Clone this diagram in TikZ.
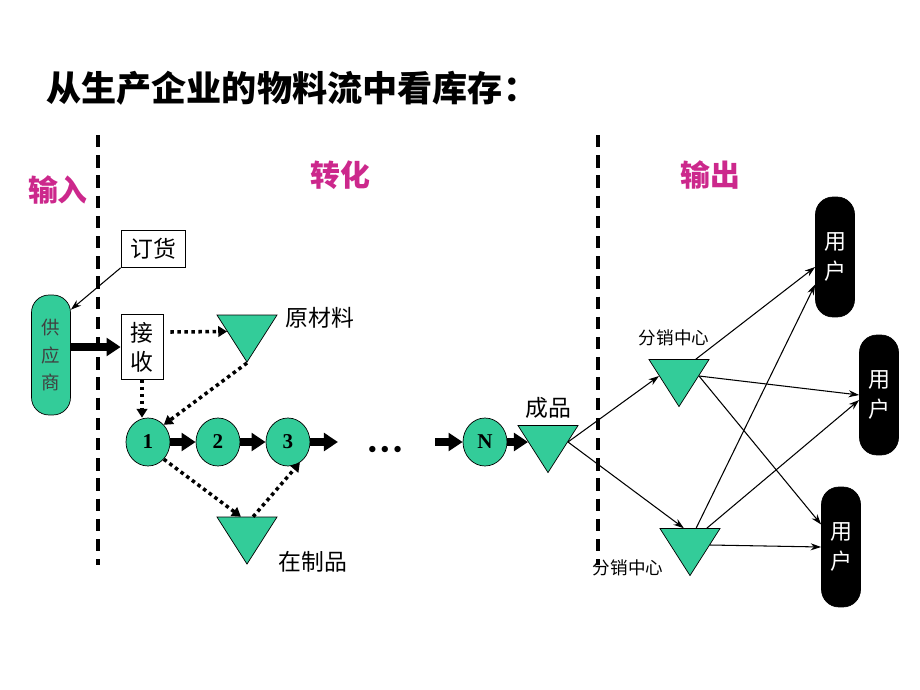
\documentclass[tikz,border=0pt]{standalone}
\usepackage{fontspec}
\usepackage{xcolor}
\usepackage{tikz}
\usetikzlibrary{positioning,arrows.meta,shapes.geometric}
\newfontfamily\cjk{Noto Sans CJK SC}
\newfontfamily\numfont{Liberation Serif}
\definecolor{flowgreen}{RGB}{51,204,153}
\definecolor{zonepink}{RGB}{204,40,140}

\begin{document}
\begin{tikzpicture}[x=0.02cm, y=-0.02cm, >=Stealth, node distance=1.4cm, font=\cjk,
    box/.style={draw, fill=white, inner sep=0pt, align=center},
    proc/.style={ellipse, draw, fill=flowgreen, minimum width=0.88cm, minimum height=0.96cm, inner sep=0pt, font=\numfont\fontsize{12}{12}\selectfont\bfseries},
    store/.style={isosceles triangle, isosceles triangle stretches, shape border rotate=270, draw, fill=flowgreen, minimum width=1.2cm, minimum height=0.94cm, inner sep=0pt},
    blob/.style={draw, rounded corners=0.35cm, minimum width=0.78cm, minimum height=2.4cm, align=center, inner sep=0pt},
    bigflow/.style={-{Triangle[length=8pt,width=10pt]}, line width=4.5pt},
    dotflow/.style={-{Triangle[length=5pt,width=6pt]}, line width=2pt, dash pattern=on 2pt off 2pt},
    thinflow/.style={-{Stealth[length=6pt,width=4pt]}, line width=0.6pt},
    zone/.style={font=\cjk\fontsize{17}{17}\selectfont\bfseries, text=zonepink},
    border/.style={line width=2pt, dash pattern=on 7pt off 4.5pt}]
    \useasboundingbox (0,0) rectangle (920,690);

    % title and zones
    \node[anchor=west, font=\cjk\fontsize{20}{20}\selectfont\bfseries] (title) at (40,88) {从生产企业的物料流中看库存：};
    \node[zone] (zin) at (58,190) {输入};
    \node[zone] (ztrans) at (340,175) {转化};
    \node[zone] (zout) at (710,175) {输出};
    \draw[border] (98,135) -- (98,565);
    \draw[border] (598,135) -- (598,565);

    % input side
    \node[blob, fill=flowgreen, text=black!75, font=\cjk\fontsize{10.5}{15.6}\selectfont] (supp) at (51,355) {供\\应\\商};
    \node[box, minimum width=1.28cm, minimum height=0.74cm, font=\cjk\fontsize{13}{13}\selectfont] (order) at (153,249) {订货};
    \node[box, minimum width=0.84cm, minimum height=1.3cm, font=\cjk\fontsize{13}{16.4}\selectfont] (recv) at (142,347) {接\\收};

    % stores
    \node[store] (raw) at (247,331.5) {};
    \node[font=\cjk\fontsize{13}{13}\selectfont] (rawlbl) at (320,318) {原材料};
    \node[store] (wip) at (247,533.5) {};
    \node[font=\cjk\fontsize{13}{13}\selectfont] (wiplbl) at (313,562) {在制品};
    \node[store] (fin) at (548,442) {};
    \node[font=\cjk\fontsize{13}{13}\selectfont] (finlbl) at (548,408) {成品};

    % process steps
    \node[proc] (c1) at (148,442) {1};
    \node[proc] (c2) [right of=c1] {2};
    \node[proc] (c3) [right of=c2] {3};
    \node[proc] (cN) at (485,442) {N};
    \coordinate (gapL) at (338,442);
    \coordinate (gapR) at (435,442);
    \node (dots) at (385,450) {\fontsize{9}{9}\selectfont${\bullet}\;{\bullet}\;{\bullet}$};

    % distribution and users
    \node[store] (dc1) at (679,376) {};
    \node[font=\cjk\fontsize{10}{10}\selectfont] (dc1lbl) at (674,338) {分销中心};
    \node[store] (dc2) at (690,545) {};
    \node[font=\cjk\fontsize{10}{10}\selectfont] (dc2lbl) at (628,568) {分销中心};
    \node[blob, fill=black, text=white, font=\cjk\fontsize{12.5}{17}\selectfont] (u1) at (835,257) {用\\户};
    \node[blob, fill=black, text=white, font=\cjk\fontsize{12.5}{17}\selectfont] (u2) at (879,395) {用\\户};
    \node[blob, fill=black, text=white, font=\cjk\fontsize{12.5}{17}\selectfont] (u3) at (841,547) {用\\户};

    % flows
    \draw[thinflow] (order.south west) -- ([yshift=-0.3cm]supp.north east);
    \draw[bigflow] (supp.east |- recv.west) -- (recv.west);
    \draw[dotflow] ([xshift=0.14cm,yshift=0.3cm]recv.east) -- (raw.west);
    \draw[dotflow] (raw.south) -- (c1.north east);
    \draw[dotflow] (recv.south) -- (recv.south |- c1.north);
    \draw[bigflow] (c1) -- (c2);
    \draw[bigflow] (c2) -- (c3);
    \draw[bigflow] (c3) -- (gapL);
    \draw[bigflow] (gapR) -- (cN);
    \draw[bigflow] (cN) -- (fin.west);
    \draw[dotflow] (c1.south east) -- (wip.110);
    \draw[dotflow] (wip.70) -- (c3.-60);

    \draw[thinflow] (fin.east) -- (dc1.west);
    \draw[thinflow] (fin.east) -- (dc2.110);
    \draw[thinflow] (dc1.north east) -- ([yshift=-0.2cm]u1.west);
    \draw[thinflow] (dc1.east) -- (u2.west);
    \draw[thinflow] (dc1.east) -- ([yshift=0.45cm]u3.west);
    \draw[thinflow] (dc2.70) -- ([yshift=-0.55cm]u1.west);
    \draw[thinflow] (dc2.north east) -- ([yshift=-0.1cm]u2.west);
    \draw[thinflow] (dc2.east) -- (u3.west);
\end{tikzpicture}
\end{document}
